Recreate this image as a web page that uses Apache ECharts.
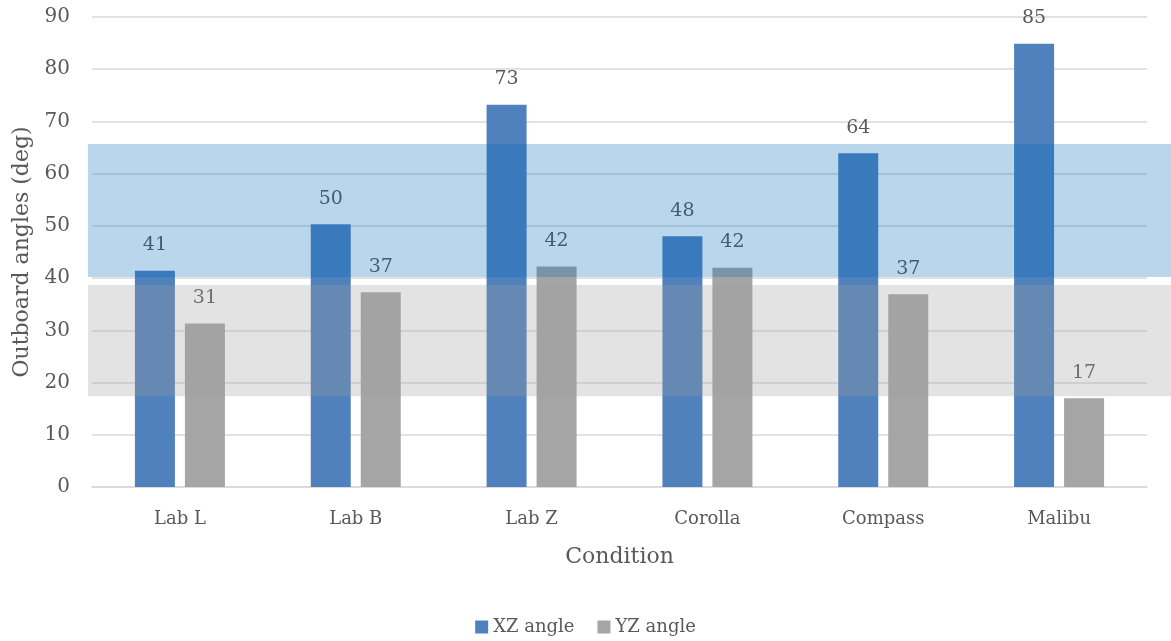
<!DOCTYPE html>
<html>
<head>
<meta charset="utf-8">
<script src="https://cdn.jsdelivr.net/npm/echarts@6/dist/echarts.min.js"></script>
<style>
  html, body { margin: 0; padding: 0; background: #ffffff; }
  #chart { width: 1171px; height: 641px; }
</style>
</head>
<body>
<div id="chart"></div>
<script>
// Outboard angles per test condition
const categories = ['Lab L', 'Lab B', 'Lab Z', 'Corolla', 'Compass', 'Malibu'];
const xzAngle = [41.4, 50.3, 73.2, 48.0, 63.9, 84.9];
const yzAngle = [31.3, 37.3, 42.2, 42.0, 36.9, 17.0];
const yTicks = { min: 0, max: 90, interval: 10 };

// Reference ranges shaded across the plot: [low, high]
const xzRange = [40.2, 65.7];
const yzRange = [17.4, 38.7];

const FONT = 'DejaVu Serif';
const TEXT = '#595959';

const chart = echarts.init(document.getElementById('chart'), null, { renderer: 'canvas' });

// Horizontal band spanning from just left of the grid to the right edge of the canvas
function bandItem(fill) {
  return function (params, api) {
    const top = api.coord([0, api.value(2)])[1];
    const bottom = api.coord([0, api.value(1)])[1];
    const left = params.coordSys.x - 4;
    return {
      type: 'rect',
      shape: { x: left, y: top, width: api.getWidth() - left, height: bottom - top },
      style: { fill: fill },
      silent: true
    };
  };
}

const valueLabel = {
  show: true,
  position: 'top',
  distance: 16,
  fontFamily: FONT,
  fontSize: 19,
  color: TEXT,
  formatter: p => Math.round(p.value).toString()
};

chart.setOption({
  animation: false,
  textStyle: { fontFamily: FONT, color: TEXT },
  grid: { left: 92, right: 24, top: 17, bottom: 154, containLabel: false },
  legend: {
    data: ['XZ angle', 'YZ angle'],
    bottom: 0,
    left: 'center',
    itemWidth: 13,
    itemHeight: 13,
    itemGap: 23,
    icon: 'rect',
    textStyle: { fontFamily: FONT, fontSize: 18, color: TEXT }
  },
  xAxis: {
    type: 'category',
    data: categories,
    name: 'Condition',
    nameLocation: 'middle',
    nameGap: 59,
    nameTextStyle: { fontFamily: FONT, fontSize: 22, color: TEXT },
    axisLine: { lineStyle: { color: '#d9d9d9', width: 1.5 } },
    axisTick: { show: false },
    axisLabel: { fontFamily: FONT, fontSize: 18, color: TEXT, margin: 23 }
  },
  yAxis: {
    type: 'value',
    min: yTicks.min,
    max: yTicks.max,
    interval: yTicks.interval,
    name: 'Outboard angles (deg)',
    nameLocation: 'middle',
    nameGap: 59,
    nameTextStyle: { fontFamily: FONT, fontSize: 22, color: TEXT },
    axisLine: { show: false },
    axisTick: { show: false },
    axisLabel: { fontFamily: FONT, fontSize: 20, color: TEXT, margin: 22 },
    splitLine: { lineStyle: { color: '#d9d9d9', width: 1.5 } }
  },
  series: [
    {
      name: 'XZ angle',
      type: 'bar',
      data: xzAngle,
      barWidth: 40,
      barGap: '25%',
      itemStyle: { color: '#4f81bd' },
      label: valueLabel,
      z: 2
    },
    {
      name: 'YZ angle',
      type: 'bar',
      data: yzAngle,
      barWidth: 40,
      itemStyle: { color: '#a5a5a5' },
      label: valueLabel,
      z: 2
    },
    {
      name: 'XZ range',
      type: 'custom',
      renderItem: bandItem('rgba(0, 104, 184, 0.27)'),
      data: [[0, xzRange[0], xzRange[1]]],
      encode: { x: 0, y: [1, 2] },
      z: 5,
      silent: true
    },
    {
      name: 'YZ range',
      type: 'custom',
      renderItem: bandItem('rgba(160, 160, 160, 0.29)'),
      data: [[0, yzRange[0], yzRange[1]]],
      encode: { x: 0, y: [1, 2] },
      z: 5,
      silent: true
    }
  ]
});
</script>
</body>
</html>
